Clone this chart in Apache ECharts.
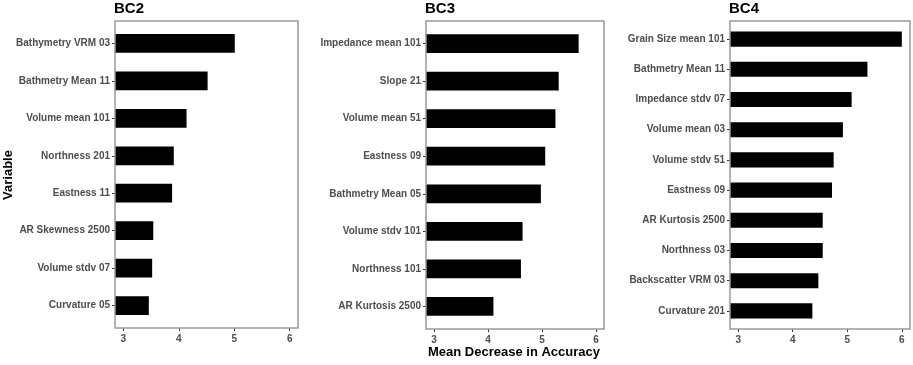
<!DOCTYPE html>
<html>
<head>
<meta charset="utf-8">
<script src="https://cdn.jsdelivr.net/npm/echarts@6/dist/echarts.min.js"></script>
<style>
  html, body { margin: 0; padding: 0; background: #fff; }
  #main { width: 913px; height: 365px; }
</style>
</head>
<body>
<div id="main"></div>
<script>
// panel data, top to bottom
var bc2Names = ['Bathymetry VRM 03', 'Bathmetry Mean 11', 'Volume mean 101', 'Northness 201',
    'Eastness 11', 'AR Skewness 2500', 'Volume stdv 07', 'Curvature 05'];
var bc2Values = [5.01, 4.52, 4.14, 3.91, 3.88, 3.54, 3.52, 3.46];

var bc3Names = ['Impedance mean 101', 'Slope 21', 'Volume mean 51', 'Eastness 09',
    'Bathmetry Mean 05', 'Volume stdv 101', 'Northness 101', 'AR Kurtosis 2500'];
var bc3Values = [5.68, 5.31, 5.25, 5.06, 4.98, 4.64, 4.61, 4.10];

var bc4Names = ['Grain Size mean 101', 'Bathmetry Mean 11', 'Impedance stdv 07', 'Volume mean 03',
    'Volume stdv 51', 'Eastness 09', 'AR Kurtosis 2500', 'Northness 03', 'Backscatter VRM 03', 'Curvature 201'];
var bc4Values = [6.00, 5.37, 5.08, 4.92, 4.75, 4.72, 4.55, 4.55, 4.47, 4.36];

var panelTitles = ['BC2', 'BC3', 'BC4'];
var xTicks = [3, 4, 5, 6];

var FONT = '"Liberation Sans", Arial, sans-serif';
var myChart = echarts.init(document.getElementById('main'));

// panel boxes (left, top, width, height)
var boxes = [
    {left: 115, top: 21, width: 183, height: 307},
    {left: 426, top: 21, width: 178, height: 308},
    {left: 730, top: 21, width: 180, height: 308}
];
var names = [bc2Names, bc3Names, bc4Names];
var values = [bc2Values, bc3Values, bc4Values];

var grids = [], xAxes = [], yAxes = [], series = [], titles = [];
for (var i = 0; i < 3; i++) {
    var b = boxes[i];
    // ggplot style discrete padding: 0.6 band each end instead of 0.5
    var inset = 0.1 * b.height / (names[i].length + 0.2);
    // data grid (inset vertically)
    grids.push({
        left: b.left, top: b.top + inset,
        width: b.width, height: b.height - 2 * inset,
        show: false
    });
    xAxes.push({
        type: 'value', gridIndex: i, min: 2.85, max: 6.15, offset: inset,
        splitLine: {show: false},
        axisLine: {show: false},
        axisTick: {show: true, length: 3, customValues: xTicks, lineStyle: {color: '#333'}},
        axisLabel: {customValues: xTicks, margin: 6, fontFamily: FONT, fontSize: 10,
            fontWeight: 'bold', color: '#4d4d4d'}
    });
    yAxes.push({
        type: 'category', gridIndex: i, data: names[i], inverse: true,
        axisLine: {show: false},
        axisTick: {show: true, length: 3, alignWithLabel: true, lineStyle: {color: '#333'}},
        axisLabel: {margin: 5, fontFamily: FONT, fontSize: 10, fontWeight: 'bold', color: '#4d4d4d'}
    });
    series.push({
        type: 'bar', xAxisIndex: i, yAxisIndex: i,
        data: values[i], barWidth: '50%', clip: true,
        itemStyle: {color: '#000'}, silent: true
    });
    titles.push({
        text: panelTitles[i], left: b.left - 1, top: 1,
        padding: 0,
        textStyle: {fontFamily: FONT, fontSize: 15, fontWeight: 'bold', color: '#000'}
    });
}
// border grids (panel frames)
for (var j = 0; j < 3; j++) {
    grids.push({
        left: boxes[j].left, top: boxes[j].top,
        width: boxes[j].width, height: boxes[j].height,
        show: true, borderColor: '#9a9a9a', borderWidth: 1.5, z: 3
    });
    xAxes.push({type: 'value', gridIndex: 3 + j, show: false});
    yAxes.push({type: 'value', gridIndex: 3 + j, show: false});
}
// axis names
titles.push({
    text: 'Mean Decrease in Accuracy', left: 514, top: 346, textAlign: 'center', padding: 0,
    textStyle: {fontFamily: FONT, fontSize: 13, fontWeight: 'bold', color: '#000'}
});

var option = {
    animation: false,
    title: titles,
    grid: grids,
    xAxis: xAxes,
    yAxis: yAxes,
    series: series,
    graphic: [{
        type: 'text', x: 2, y: 175, rotation: Math.PI / 2,
        style: {text: 'Variable', font: 'bold 13px ' + FONT, fill: '#000',
            align: 'center', verticalAlign: 'top'}
    }]
};
myChart.setOption(option);
</script>
</body>
</html>
